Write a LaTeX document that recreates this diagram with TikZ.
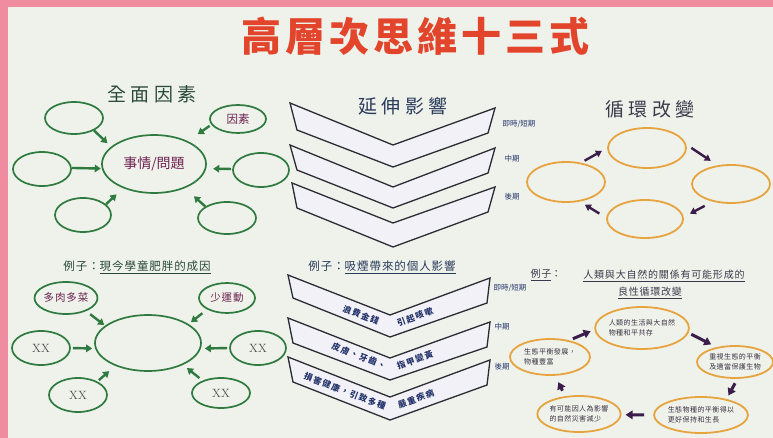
\documentclass[tikz,border=0pt]{standalone}
\usepackage{fontspec}
\usetikzlibrary{shapes.geometric,arrows.meta}
\newfontfamily\cjk{Noto Sans CJK TC}
\newfontfamily\cjkT[LetterSpace=10]{Noto Sans CJK TC}
\newfontfamily\cjkH[LetterSpace=22]{Noto Sans CJK TC}
\newfontfamily\cjkE[LetterSpace=8]{Noto Sans CJK TC}
\newfontfamily\cjkC[LetterSpace=15]{Noto Sans CJK TC}
\newfontfamily\cjkS[LetterSpace=6]{Noto Sans CJK TC}
\definecolor{cPink}{HTML}{F08CA0}
\definecolor{cPaper}{HTML}{EEF2EB}
\definecolor{cRed}{HTML}{E2452B}
\definecolor{cGreen}{HTML}{2F7A3E}
\definecolor{cGreenTxt}{HTML}{2C4A38}
\definecolor{cNavy}{HTML}{24346B}
\definecolor{cNavyHead}{HTML}{2A3A5A}
\definecolor{cDark}{HTML}{3A3A4A}
\definecolor{cOrange}{HTML}{E6A33E}
\definecolor{cPurpleArr}{HTML}{3B1D4A}
\definecolor{cPurpleTxt}{HTML}{6E2350}
\definecolor{cChevLine}{HTML}{2B2B33}
\definecolor{cChevFill}{HTML}{F2F1F7}
\definecolor{cSmall}{HTML}{3A3040}
\begin{document}
\begin{tikzpicture}[x=1pt,y=-1pt,
  gell/.style={ellipse, draw=cGreen, line width=1.7pt, inner sep=0pt},
  oell/.style={ellipse, draw=cOrange, line width=1.8pt, inner sep=0pt, align=left,
     font=\cjkS\fontsize{7}{10}\selectfont, text=cSmall},
  garr/.style={draw=cGreen, line width=2.4pt, -{Triangle[length=6pt,width=7.5pt]}},
  parr/.style={draw=cPurpleArr, line width=2.4pt, -{Triangle[length=6pt,width=7pt]}},
  parrb/.style={draw=cPurpleArr, line width=3pt, -{Triangle[length=7pt,width=8.5pt]}},
  chev/.style={draw=cChevLine, fill=cChevFill, line width=1.3pt, line join=miter},
  lbl/.style={font=\cjk\fontsize{7.5}{8}\selectfont, text=cNavy, anchor=west},
  ctext/.style={font=\cjkC\bfseries\fontsize{8.5}{9}\selectfont, text=cNavy, inner sep=0pt},
  xx/.style={font=\fontsize{12}{12}\selectfont, text=black!70}
]
\path[use as bounding box] (0,0) rectangle (773,438);
\fill[cPink] (0,0) rectangle (773,438);
\fill[cPaper] (8,7) rectangle (773,438);

% title and headers
\node (title) at (415,36) {\color{cRed}\cjkT\bfseries\fontsize{40}{40}\selectfont 高層次思維十三式};
\node[text=cGreenTxt, font=\cjkH\fontsize{19}{19}\selectfont] (h1) at (152,94) {全面因素};
\node[text=cNavyHead, font=\cjkH\fontsize{19}{19}\selectfont] (h2) at (403,106) {延伸影響};
\node[text=cDark, font=\cjkH\fontsize{19}{19}\selectfont] (h3) at (650,109) {循環改變};

% ---------- top-left: all factors ----------
\node[gell, minimum width=104pt, minimum height=58pt, font=\cjk\fontsize{14}{14}\selectfont, text=cPurpleTxt] (c) at (154,164) {事情/問題};
\node[gell, minimum width=58pt, minimum height=32pt] (tl) at (74,118) {};
\node[gell, minimum width=56pt, minimum height=28pt, font=\cjk\fontsize{11.5}{12}\selectfont, text=cPurpleTxt] (tr) at (238,119) {因素};
\node[gell, minimum width=58pt, minimum height=34pt] (l) at (42,169) {};
\node[gell, minimum width=56pt, minimum height=34pt] (r) at (261,170) {};
\node[gell, minimum width=56pt, minimum height=34pt] (bl) at (83,215) {};
\node[gell, minimum width=58pt, minimum height=32pt] (br) at (227,218) {};
\draw[garr, shorten >=5pt] (tl.-32) -- (c.158);
\draw[garr, shorten <=2pt, shorten >=12pt] (tr.192) -- (c.34);
\draw[garr, shorten >=1pt] (l.2) -- (c.185);
\draw[garr, shorten <=1pt, shorten >=7pt] (r.178) -- (c.-5);
\draw[garr, shorten >=9pt] (bl.25) -- (c.218);
\draw[garr, shorten >=12pt] (br.152) -- (c.-38);

% ---------- bottom-left example ----------
\node[text=cGreenTxt, font=\cjkE\fontsize{11.5}{12}\selectfont] (ex1) at (137,267) {例子：\underline{現今學童肥胖的成因}};
\node[gell, minimum width=106pt, minimum height=56pt] (c2) at (148,343) {};
\node[gell, minimum width=58pt, minimum height=32pt, font=\cjkE\fontsize{10.5}{11}\selectfont, text=cPurpleTxt] (tl2) at (66,298) {多肉多菜};
\node[gell, minimum width=56pt, minimum height=30pt, font=\cjkE\fontsize{10.5}{11}\selectfont, text=cPurpleTxt] (tr2) at (227,298) {少運動};
\node[gell, minimum width=58pt, minimum height=34pt, xx] (l2) at (41,348) {XX};
\node[gell, minimum width=56pt, minimum height=34pt, xx] (r2) at (258,348) {XX};
\node[gell, minimum width=58pt, minimum height=34pt, xx] (bl2) at (78,395) {XX};
\node[gell, minimum width=58pt, minimum height=30pt, xx] (br2) at (221,393) {XX};
\draw[garr, shorten <=5pt, shorten >=1pt] (tl2.-33) -- (c2.158);
\draw[garr, shorten <=6pt, shorten >=3pt] (tr2.210) -- (c2.25);
\draw[garr, shorten <=2pt, shorten >=3pt] (l2.0) -- (c2.186);
\draw[garr, shorten <=2pt, shorten >=4pt] (r2.180) -- (c2.-6);
\draw[garr, shorten <=2pt, shorten >=8pt] (bl2.35) -- (c2.215);
\draw[garr, shorten <=4pt, shorten >=5pt] (br2.146) -- (c2.-32);

% ---------- middle top: chevrons ----------
\filldraw[chev] (290,103) -- (393,145) -- (495,108) -- (488,133) -- (393,167) -- (297,130) -- cycle;
\filldraw[chev] (290,145) -- (393,187) -- (495,148) -- (488,173) -- (393,208) -- (297,170) -- cycle;
\filldraw[chev] (292,183) -- (393,223) -- (495,187) -- (488,212) -- (393,247) -- (297,208) -- cycle;
\node[lbl] (s1) at (499,124) {即時/短期};
\node[lbl] (m1) at (501,159) {中期};
\node[lbl] (g1) at (501,197) {後期};

% ---------- middle bottom: smoking example ----------
\node[text=cNavyHead, font=\cjkE\fontsize{11.5}{12}\selectfont] (ex2) at (382,267) {例子：\underline{吸煙帶來的個人影響}};
\filldraw[chev] (288,275) -- (390,315) -- (490,278) -- (487,303) -- (390,337) -- (293,298) -- cycle;
\filldraw[chev] (288,318) -- (390,358) -- (490,322) -- (487,347) -- (390,380) -- (293,343) -- cycle;
\filldraw[chev] (288,357) -- (390,397) -- (490,360) -- (487,385) -- (390,420) -- (293,382) -- cycle;
\node[ctext, rotate=-21] (t1a) at (361,315) {浪費金錢};
\node[ctext, rotate=20] (t1b) at (415,317) {引起咳嗽};
\node[ctext, rotate=-21] (t2a) at (359,356) {皮膚、牙齒、};
\node[ctext, rotate=20] (t2b) at (415,360) {指甲變黃};
\node[ctext, rotate=-21] (t3a) at (345,391) {損害健康，引致多種};
\node[ctext, rotate=20] (t3b) at (416,399) {嚴重疾病};
\node[lbl] (s2) at (490,288) {即時/短期};
\node[lbl] (m2) at (491,327) {中期};
\node[lbl] (g2) at (491,367) {後期};

% ---------- right top: cycle ----------
\node[oell, minimum width=78pt, minimum height=40pt] (T) at (647,148) {};
\node[oell, minimum width=78pt, minimum height=40pt] (L) at (566,182) {};
\node[oell, minimum width=78pt, minimum height=38pt] (R) at (731,184) {};
\node[oell, minimum width=76pt, minimum height=38pt] (B) at (645,219) {};
\draw[parr, shorten <=4pt, shorten >=6pt] (L.52) -- (T.180);
\draw[parr, shorten <=6pt, shorten >=8pt] (T.5) -- (R.126);
\draw[parr, shorten <=9pt, shorten >=7pt] (R.224) -- (B.3);
\draw[parr, shorten <=8pt, shorten >=6pt] (B.178) -- (L.-55);

% ---------- right bottom: example cycle ----------
\node[text=cDark, font=\cjkE\fontsize{10}{10}\selectfont] (ex3a) at (546,275) {\underline{例子}：};
\node[text=cDark, font=\cjkE\fontsize{10}{10}\selectfont] (ex3b) at (664,276) {\underline{人類與大自然的關係有可能形成的}};
\node[text=cDark, font=\cjkE\fontsize{10}{10}\selectfont] (ex3c) at (650,293) {\underline{良性循環改變}};
\node[oell, minimum width=90pt, minimum height=42pt] (T2) at (642,328) {人類的生活與大自然\\物種和平共存};
\node[oell, minimum width=76pt, minimum height=32pt] (R2) at (735,362) {重視生態的平衡\\及適當保護生物};
\node[oell, minimum width=78pt, minimum height=36pt] (BR2) at (701,415) {生態物種的平衡得以\\更好保持和生長};
\node[oell, minimum width=80pt, minimum height=36pt] (BL2) at (579,414) {有可能因人為影響\\的自然災害減少};
\node[oell, minimum width=80pt, minimum height=36pt] (L2) at (550,357) {生態平衡發展，\\物種豐富};
\draw[parrb, shorten <=4pt, shorten >=4pt] (L2.41) -- (T2.182);
\draw[parrb, shorten <=3pt, shorten >=6pt] (T2.-6) -- (R2.141);
\draw[parrb, shorten <=5pt, shorten >=4pt] (R2.-82) -- (BR2.32);
\draw[parrb, shorten <=9pt, shorten >=4pt] (BR2.180) -- (BL2.-1);
\draw[parrb, shorten <=6pt, shorten >=7pt] (BL2.128) -- (L2.-74);
\end{tikzpicture}
\end{document}
